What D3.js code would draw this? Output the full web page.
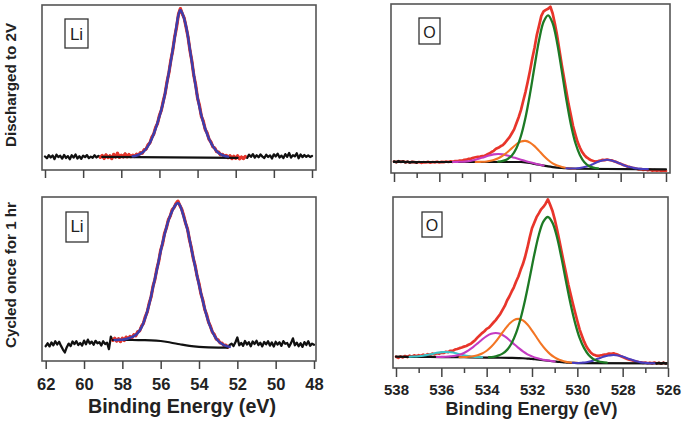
<!DOCTYPE html>
<html><head><meta charset="utf-8">
<script src="https://cdn.jsdelivr.net/npm/d3@7"></script>
<style>body{margin:0;background:#fff}svg{display:block}</style>
</head><body><svg id="c" width="685" height="424"></svg>
<script>
// ---------------- DATA ----------------
const liDomain = [62, 48];
const oDomain = [538, 526];
const liTicks = [62, 60, 58, 56, 54, 52, 50, 48];
const oMajorTicks = [538, 536, 534, 532, 530, 528, 526];
const oMinorTicks = [537, 535, 533, 531, 529, 527];
const rowLabels = ["Discharged to 2V", "Cycled once for 1 hr"];
const xTitle = "Binding Energy (eV)";
const tags = ["Li", "O"];

// raw spectra sampled every 0.1 eV, intensities 0-100 (arb.)
const rawStep = 0.1;
const liTopStart = 62.0;
const liTopRaw = [8.2,7.1,9.0,7.6,8.8,6.6,9.3,7.9,8.6,6.9,
 9.1,7.3,8.4,6.5,8.9,7.5,9.4,7.0,8.3,6.8,
 8.7,7.8,9.0,7.2,8.1,7.4,8.9,7.6,8.5,7.7,
 8.8,7.0,9.2,7.5,8.6,6.9,9.5,7.8,10.2,7.6,
 9.0,7.9,9.8,8.0,9.4,8.1,9.0,8.2,9.6,9.0,
 10.5,10.2,12.3,12.6,15.2,16.4,19.8,21.7,25.8,28.2,
 33.1,36.2,41.8,46.5,53.6,59.1,66.7,72.6,80.7,86.6,
 94.5,97.8,94.6,92.0,86.4,80.6,72.5,66.1,57.4,51.6,
 43.5,39.1,32.5,29.6,24.6,22.5,18.6,17.0,14.1,13.3,
 11.1,10.9,9.2,9.5,8.1,8.9,7.4,8.7,6.9,8.3,
 7.1,8.6,6.8,7.9,6.9,8.2,7.4,9.3,8.0,9.6,
 7.5,8.9,7.7,9.4,8.1,7.3,9.2,7.9,8.8,7.0,
 9.5,8.2,9.9,7.6,8.7,7.2,9.6,8.0,10.3,7.5,
 9.0,8.3,10.1,7.1,9.4,7.8,9.1,8.0,8.8,7.9,
 8.5];
const liTopRedRange = [59.1, 51.5];
const liTopFitE = [57.4,57.2,57.0,56.8,56.6,56.4,56.2,56.0,55.8,55.6,55.4,55.2,55.0,54.9,54.8,54.6,54.4,54.2,54.0,53.8,53.6,53.4,53.2,53.0,52.8,52.6,52.4];
const liTopFitV = [8.3,8.8,9.8,11.5,14.5,19,25,32.5,41,53,66,80,94,97,95,87,73,58,44,33,25,19,14.5,11.5,9.6,8.6,8.1];
const liTopBgE = [59.0, 51.9];
const liTopBgV = [7.9, 7.4];

const liBotStart = 62.0;
const liBotRaw = [9.0,10.8,8.9,11.3,9.6,12.0,10.1,11.7,9.2,7.0,
 5.2,8.4,10.6,9.1,11.9,10.3,12.1,9.8,11.0,9.4,
 12.4,10.2,13.0,10.6,11.8,9.9,12.3,10.8,11.5,9.5,
 12.0,10.4,11.2,7.2,14.8,12.6,13.9,12.1,13.6,11.8,
 13.9,12.5,14.6,13.2,15.0,14.1,16.0,15.4,17.9,18.3,
 21.2,23.0,27.1,30.0,35.2,39.1,45.6,49.8,56.2,60.9,
 67.6,71.5,77.8,81.2,86.1,88.4,92.2,93.6,96.0,97.5,
 94.8,92.5,88.6,84.0,80.5,74.0,69.1,62.6,58.1,51.7,
 47.2,41.0,37.1,31.4,28.2,23.6,21.1,17.5,16.1,13.4,
 12.8,11.0,10.9,9.4,9.7,8.3,9.8,10.6,9.1,11.4,
 14.3,9.6,11.0,9.3,12.2,10.1,11.5,9.0,11.9,10.4,
 12.3,9.7,11.1,8.9,11.6,10.2,12.0,9.4,11.3,8.8,
 11.7,10.0,11.4,9.2,12.1,10.5,11.0,8.7,10.9,13.8,
 9.6,11.2,9.0,10.8,8.6,11.5,9.8,12.0,9.3,10.6,
 9.9];
const liBotRedRange = [58.5, 52.5];
const liBotFitE = [58.4,58.2,58.0,57.8,57.6,57.4,57.2,57.0,56.8,56.6,56.4,56.2,56.0,55.8,55.6,55.4,55.2,55.1,55.0,54.8,54.6,54.4,54.2,54.0,53.8,53.6,53.4,53.2,53.0,52.8,52.6,52.4];
const liBotFitV = [12.8,12.9,13.0,13.4,14.2,15.2,17.0,20.5,26.5,34.5,45,55.5,67,77,85.5,91.5,95.5,96.3,95,88,80,68.5,57.5,46.5,36.5,27.5,20.5,15.5,12.2,10.4,9.2,8.6];
const liBotBgE = [58.5,58.0,57.5,57.0,56.5,56.0,55.5,55.0,54.5,54.0,53.5,53.0,52.5];
const liBotBgV = [12.8,12.8,12.8,12.7,12.6,12.2,11.3,10.2,9.2,8.6,8.3,8.2,8.2];

const oTopStart = 538.0;
const oTopRaw = [6.8,6.4,7.0,6.6,6.9,6.3,6.7,6.2,6.6,6.4,
 6.1,6.5,6.0,6.4,6.2,6.6,6.1,6.5,6.3,6.7,
 6.2,6.6,6.4,6.8,6.5,6.9,6.6,7.1,7.0,7.4,
 7.3,7.8,7.9,8.4,8.5,9.0,9.3,9.6,9.7,10.0,
 10.2,10.9,11.5,12.4,13.1,14.3,14.9,15.8,16.5,17.9,
 19.6,21.2,23.5,25.8,29.4,33.0,37.2,42.6,47.9,54.0,
 60.5,67.8,74.1,81.6,87.2,93.0,95.6,96.5,97.2,98.4,
 94.4,88.2,81.0,72.5,64.1,56.3,48.6,40.9,34.5,27.8,
 22.9,18.3,15.1,12.4,10.6,9.2,8.3,7.5,7.1,6.8,
 7.0,7.3,7.8,7.6,8.0,7.7,7.5,7.0,6.6,5.9,
 5.5,4.8,4.4,3.8,3.6,3.1,2.9,2.5,2.1,2.3,
 1.8,2.1,1.6,1.9,1.4,1.7,1.3,1.6,1.2,1.5,
 1.2];
const oTopBlackRange = [538.0, 537.0];
const oTopBgE = [538,533,532.4,532.2,532.0,531.8,531.6,531.4,531.2,531.0,530.8,530.6,530.4,530.2,530.0,526];
const oTopBgV = [6.5,6.5,6.5,6.3,5.9,5.4,4.9,4.4,3.9,3.5,3.2,3.0,2.8,2.6,2.5,2.2];
// fitted components, sampled every 0.2 eV from their start energy
const compStep = 0.2;
const oTopGreenStart = 533.4;
const oTopGreen = [6.7,7.2,8.2,10.4,14.7,21.9,32.7,46.8,63.0,78.5,89.5,93.3,88.6,76.8,60.6,43.7,29.0,17.9,10.7,6.4,4.2,3.2,2.7];
const oTopOrangeStart = 534.4;
const oTopOrange = [6.5,6.6,6.7,7.1,7.7,8.7,10.3,12.3,14.7,17.0,18.6,19.0,18.0,15.9,13.1,10.2,7.7,5.7,4.4,3.6,3.0,2.7,2.5];
const oTopMagentaStart = 535.4;
const oTopMagenta = [6.5,6.6,6.7,6.9,7.3,7.9,8.7,9.5,10.4,11.0,11.2,11.0,10.4,9.5,8.7,7.9,7.1,6.3,5.6,5.0,4.4];
const oTopBlueStart = 530.4;
const oTopBlue = [2.8,2.7,2.7,3.0,3.5,4.3,5.4,6.6,7.4,7.8,7.4,6.5,5.4,4.3,3.5,2.9,2.6,2.4,2.3];

const oBotStart = 538.0;
const oBotRaw = [6.6,5.9,6.8,6.2,7.0,6.4,7.2,6.6,7.4,6.9,
 7.5,7.0,7.8,7.3,8.1,7.6,8.4,8.0,8.6,8.3,
 9.0,8.8,9.5,9.3,10.1,10.0,10.8,11.1,11.6,12.0,
 12.5,12.9,13.6,14.2,15.3,16.4,17.9,19.2,20.4,21.5,
 22.9,23.6,25.1,26.6,28.0,29.8,31.6,34.0,36.3,39.5,
 41.8,44.6,47.2,50.6,53.5,57.4,60.8,65.2,70.5,76.4,
 81.7,85.0,88.2,90.4,92.8,94.2,96.1,98.6,95.5,92.0,
 87.1,81.3,75.0,68.4,61.8,55.5,49.0,43.4,37.8,32.6,
 27.5,22.6,18.9,15.4,12.6,10.6,8.9,7.9,7.4,7.1,
 7.3,7.5,7.8,8.0,8.4,8.3,8.6,8.1,7.7,7.0,
 6.4,5.9,5.3,4.8,4.5,4.1,3.8,3.5,3.3,3.0,
 3.2,2.8,3.1,2.7,3.2,2.6,3.0,2.5,3.1,2.6,
 2.9];
const oBotBlackRange = [526.5, 526.0];
const oBotBgE = [538,537,536,535,534,533,532.6,532.4,532.2,532.0,531.8,531.6,531.4,531.2,531.0,530.8,530.6,530.4,530.2,530.0,526];
const oBotBgV = [6.6,6.5,6.4,6.3,6.1,5.9,5.8,5.7,5.5,5.3,5.0,4.7,4.4,4.1,3.8,3.5,3.3,3.1,3.0,2.9,2.7];
const oBotGreenStart = 533.9;
const oBotGreen = [6.3,6.5,7.2,8.4,10.6,14.5,20.5,29.1,40.1,52.9,66.2,77.8,85.6,88.3,85.0,76.6,64.4,50.7,37.6,26.4,17.6,11.6,7.6,5.3,4.1,3.4,3.1];
const oBotOrangeStart = 535.2;
const oBotOrange = [6.3,6.4,6.6,6.9,7.5,8.5,10.1,12.4,15.4,19.0,22.6,25.8,28.0,28.7,27.8,25.4,21.9,18.0,14.1,10.8,8.1,6.2,4.8,4.0,3.4,3.1,3.0];
const oBotMagentaStart = 536.2;
const oBotMagenta = [6.4,6.5,6.6,6.8,7.1,7.7,8.8,10.3,12.2,14.4,16.7,18.7,20.0,20.5,20.0,18.5,16.4,14.0,11.8,9.7,8.0,6.8,5.8,5.1,4.6,4.2,3.8];
const oBotCyanStart = 537.4;
const oBotCyan = [6.6,6.7,6.9,7.2,7.7,8.2,8.9,9.2,9.4,9.2,8.8,8.1,7.5,7.0,6.6,6.4,6.3];
const oBotBlueStart = 530.2;
const oBotBlue = [3.0,2.9,3.1,3.4,4.0,4.9,5.8,6.8,7.3,7.6,7.3,6.7,5.7,4.8,3.9,3.3,3.0,2.8,2.75];

// ---------------- STYLE ----------------
const FONT = "'Liberation Sans', Arial, Helvetica, sans-serif";
const C = {red:"#e8352b", liBlue:"#3d3dab", green:"#1d7a25", orange:"#f37524",
  magenta:"#c43bc2", cyan:"#3bc4c9", oBlue:"#4a3ebf", black:"#111", frame:"#555"};

// ---------------- HELPERS ----------------
const sampled = (start, step, vals) => vals.map((v, i) => [+(start - i * step).toFixed(2), v]);
const zip = (es, vs) => es.map((e, i) => [e, vs[i]]);
const between = (pts, r) => pts.filter(d => d[0] <= r[0] + 1e-6 && d[0] >= r[1] - 1e-6);

const svg = d3.select("#c");
const defs = svg.append("defs");

function drawPanel(p) {
  const x = d3.scaleLinear().domain(p.domain).range(p.xRange);
  const y = d3.scaleLinear().domain([0, 100]).range([p.box[3], p.box[1]]);
  defs.append("clipPath").attr("id", "clip-" + p.id).append("rect")
    .attr("x", p.box[0]).attr("y", p.box[1])
    .attr("width", p.box[2] - p.box[0]).attr("height", p.box[3] - p.box[1]);
  const g = svg.append("g");
  const plot = g.append("g").attr("clip-path", `url(#clip-${p.id})`);
  p.series.forEach(s => {
    const line = d3.line().x(d => x(d[0])).y(d => y(d[1])).curve(s.curve || d3.curveLinear);
    plot.append("path").datum(s.pts).attr("d", line)
      .attr("fill", "none").attr("stroke", s.color).attr("stroke-width", s.w)
      .attr("stroke-linejoin", "round").attr("stroke-linecap", "round");
  });
  g.append("rect").attr("x", p.box[0]).attr("y", p.box[1])
    .attr("width", p.box[2] - p.box[0]).attr("height", p.box[3] - p.box[1])
    .attr("fill", "none").attr("stroke", C.frame).attr("stroke-width", 1.6);
  const ax = g.append("g").attr("transform", `translate(0,${p.box[3]})`)
    .call(d3.axisBottom(x).tickValues(p.ticks).tickSize(p.tickLen)
      .tickPadding(p.tickPad).tickFormat(p.labels ? d3.format("d") : () => ""));
  ax.select(".domain").remove();
  ax.selectAll(".tick line").attr("stroke", "#444").attr("stroke-width", 1.5);
  ax.selectAll(".tick text").attr("fill", "#222").attr("font-family", FONT)
    .attr("font-weight", "bold").attr("font-size", p.tickFont);
  if (p.minor) {
    const mx = g.append("g").attr("transform", `translate(0,${p.box[3]})`)
      .call(d3.axisBottom(x).tickValues(p.minor).tickSize(5).tickFormat(() => ""));
    mx.select(".domain").remove();
    mx.selectAll(".tick line").attr("stroke", "#444").attr("stroke-width", 1.5);
  }
  const t = p.tag;
  g.append("rect").attr("x", t.x).attr("y", t.y).attr("width", t.w).attr("height", t.h)
    .attr("fill", "#fff").attr("stroke", "#333").attr("stroke-width", 1.3);
  g.append("text").attr("x", t.x + t.w / 2).attr("y", t.base).attr("text-anchor", "middle")
    .attr("font-family", FONT).attr("font-size", t.size).attr("fill", "#222").text(t.text);
  if (p.title) {
    g.append("text").attr("x", p.title.x).attr("y", p.title.y).attr("text-anchor", "middle")
      .attr("font-family", FONT).attr("font-weight", "bold").attr("font-size", p.title.size)
      .attr("fill", "#222").text(xTitle);
  }
}

// ---------------- PANELS ----------------
const liTopPts = sampled(liTopStart, rawStep, liTopRaw);
const liBotPts = sampled(liBotStart, rawStep, liBotRaw);
const oTopPts = sampled(oTopStart, rawStep, oTopRaw);
const oBotPts = sampled(oBotStart, rawStep, oBotRaw);
const smooth = d3.curveCatmullRom.alpha(0.5);

drawPanel({
  id: "liTop", box: [42, 5, 316, 170], xRange: [45, 312], domain: liDomain,
  ticks: liTicks, tickLen: 8, tickPad: 8, labels: false, tickFont: 16.5,
  tag: {x: 65, y: 19, w: 23, h: 29, base: 39.5, size: 17, text: tags[0]},
  series: [
    {pts: liTopPts, color: C.black, w: 2.3},
    {pts: between(liTopPts, liTopRedRange), color: C.red, w: 3.2},
    {pts: zip(liTopBgE, liTopBgV), color: C.black, w: 2.2},
    {pts: zip(liTopFitE, liTopFitV), color: C.liBlue, w: 2.5, curve: smooth}
  ]
});
drawPanel({
  id: "liBot", box: [42, 197, 316, 361], xRange: [45.7, 314], domain: liDomain,
  ticks: liTicks, tickLen: 8, tickPad: 9, labels: true, tickFont: 16.5,
  tag: {x: 66, y: 212, w: 22, h: 30, base: 232, size: 17, text: tags[0]},
  title: {x: 182, y: 413, size: 19.7},
  series: [
    {pts: liBotPts, color: C.black, w: 2.3},
    {pts: between(liBotPts, liBotRedRange), color: C.red, w: 3.2},
    {pts: zip(liBotBgE, liBotBgV), color: C.black, w: 2.2, curve: d3.curveMonotoneX},
    {pts: zip(liBotFitE, liBotFitV), color: C.liBlue, w: 2.5, curve: smooth}
  ]
});
drawPanel({
  id: "oTop", box: [391, 4, 670, 173], xRange: [394, 666], domain: oDomain,
  ticks: oMajorTicks, minor: oMinorTicks, tickLen: 9, tickPad: 7, labels: false, tickFont: 15,
  tag: {x: 419, y: 18, w: 21, h: 26, base: 37.5, size: 16, text: tags[1]},
  series: [
    {pts: oTopPts, color: C.red, w: 2.7},
    {pts: between(oTopPts, oTopBlackRange), color: C.black, w: 2.4},
    {pts: zip(oTopBgE, oTopBgV), color: C.black, w: 2.2, curve: d3.curveMonotoneX},
    {pts: sampled(oTopMagentaStart, compStep, oTopMagenta), color: C.magenta, w: 2.1, curve: smooth},
    {pts: sampled(oTopOrangeStart, compStep, oTopOrange), color: C.orange, w: 2.1, curve: smooth},
    {pts: sampled(oTopBlueStart, compStep, oTopBlue), color: C.oBlue, w: 2.1, curve: smooth},
    {pts: sampled(oTopGreenStart, compStep, oTopGreen), color: C.green, w: 2.3, curve: smooth}
  ]
});
drawPanel({
  id: "oBot", box: [393, 197, 668, 368], xRange: [396, 668], domain: oDomain,
  ticks: oMajorTicks, minor: oMinorTicks, tickLen: 9, tickPad: 7.5, labels: true, tickFont: 15,
  tag: {x: 422, y: 212, w: 20, h: 25, base: 231, size: 16, text: tags[1]},
  title: {x: 531.5, y: 415, size: 18},
  series: [
    {pts: oBotPts, color: C.red, w: 2.7},
    {pts: between(oBotPts, oBotBlackRange), color: C.black, w: 2.2},
    {pts: zip(oBotBgE, oBotBgV), color: C.black, w: 2.2, curve: d3.curveMonotoneX},
    {pts: sampled(oBotCyanStart, compStep, oBotCyan), color: C.cyan, w: 2.1, curve: smooth},
    {pts: sampled(oBotMagentaStart, compStep, oBotMagenta), color: C.magenta, w: 2.1, curve: smooth},
    {pts: sampled(oBotOrangeStart, compStep, oBotOrange), color: C.orange, w: 2.1, curve: smooth},
    {pts: sampled(oBotBlueStart, compStep, oBotBlue), color: C.oBlue, w: 2.1, curve: smooth},
    {pts: sampled(oBotGreenStart, compStep, oBotGreen), color: C.green, w: 2.3, curve: smooth}
  ]
});

[[16, 85], [15.5, 275]].forEach((pos, i) => {
  svg.append("text").attr("transform", `translate(${pos[0]},${pos[1]}) rotate(-90)`)
    .attr("text-anchor", "middle").attr("font-family", FONT).attr("font-weight", "bold")
    .attr("font-size", 15.2).attr("fill", "#222").text(rowLabels[i]);
});
</script></body></html>
